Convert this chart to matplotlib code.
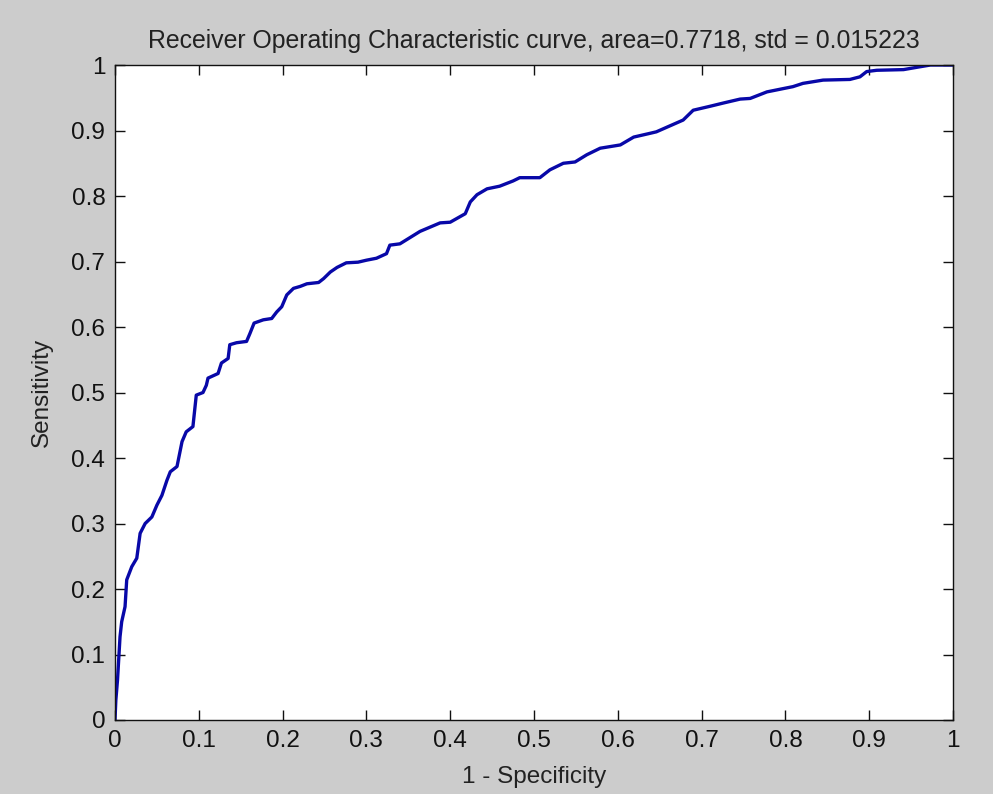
import matplotlib.pyplot as plt

plt.rcParams['font.family'] = ['Liberation Sans', 'DejaVu Sans']

# ROC curve vertices (1 - specificity, sensitivity)
fpr = [0.0, 0.001, 0.003, 0.006, 0.008, 0.012, 0.014, 0.020, 0.026, 0.030,
       0.036, 0.044, 0.050, 0.056, 0.062, 0.066, 0.074, 0.080, 0.085, 0.093,
       0.097, 0.105, 0.109, 0.111, 0.123, 0.127, 0.135, 0.137, 0.145, 0.157,
       0.161, 0.166, 0.177, 0.187, 0.193, 0.199, 0.205, 0.213, 0.221, 0.229,
       0.243, 0.249, 0.257, 0.265, 0.276, 0.290, 0.300, 0.312, 0.324, 0.328,
       0.340, 0.364, 0.388, 0.400, 0.418, 0.424, 0.432, 0.444, 0.459, 0.475,
       0.483, 0.507, 0.519, 0.535, 0.549, 0.563, 0.579, 0.603, 0.619, 0.636,
       0.646, 0.678, 0.690, 0.710, 0.726, 0.746, 0.758, 0.778, 0.809, 0.821,
       0.845, 0.877, 0.889, 0.897, 0.909, 0.941, 0.959, 0.973, 1.0]
tpr = [0.0, 0.03, 0.061, 0.127, 0.150, 0.173, 0.214, 0.234, 0.247, 0.285,
       0.300, 0.310, 0.328, 0.343, 0.366, 0.379, 0.387, 0.425, 0.440, 0.448,
       0.496, 0.500, 0.511, 0.522, 0.529, 0.545, 0.552, 0.573, 0.576, 0.578,
       0.590, 0.606, 0.611, 0.613, 0.623, 0.631, 0.649, 0.659, 0.662, 0.666,
       0.668, 0.674, 0.684, 0.691, 0.698, 0.699, 0.702, 0.705, 0.712, 0.725,
       0.727, 0.746, 0.759, 0.760, 0.773, 0.791, 0.802, 0.811, 0.815, 0.823,
       0.828, 0.828, 0.840, 0.850, 0.852, 0.863, 0.873, 0.878, 0.890, 0.895,
       0.898, 0.916, 0.931, 0.937, 0.942, 0.948, 0.949, 0.959, 0.967, 0.972,
       0.977, 0.978, 0.982, 0.990, 0.992, 0.993, 0.997, 1.0, 1.0]

ticks = [0, 0.1, 0.2, 0.3, 0.4, 0.5, 0.6, 0.7, 0.8, 0.9, 1]
tick_labels = ['0', '0.1', '0.2', '0.3', '0.4', '0.5', '0.6', '0.7', '0.8', '0.9', '1']

fig = plt.figure(figsize=(9.93, 7.94), dpi=100, facecolor='#cccccc')
ax = fig.add_axes([0.1158, 0.0932, 0.8439, 0.8249])

ax.plot(fpr, tpr, color='#0808a8', lw=2.4)

ax.set_xlim(0, 1)
ax.set_ylim(0, 1)
ax.set_xticks(ticks)
ax.set_xticklabels(tick_labels)
ax.set_yticks(ticks)
ax.set_yticklabels(tick_labels)
ax.tick_params(direction='in', length=7, width=1, top=True, right=True,
               labelsize=17.5, colors='#111111', pad=7)
for s in ax.spines.values():
    s.set_linewidth(1)
    s.set_color('#111111')

ax.set_title('Receiver Operating Characteristic curve, area=0.7718, std = 0.015223',
             fontsize=17.9, pad=12, color='#222222')
ax.set_xlabel('1 - Specificity', fontsize=17.5, labelpad=10, color='#222222')
ax.set_ylabel('Sensitivity', fontsize=17.5, labelpad=13, color='#222222')

fig.savefig('out.png', dpi=100, facecolor=fig.get_facecolor())
